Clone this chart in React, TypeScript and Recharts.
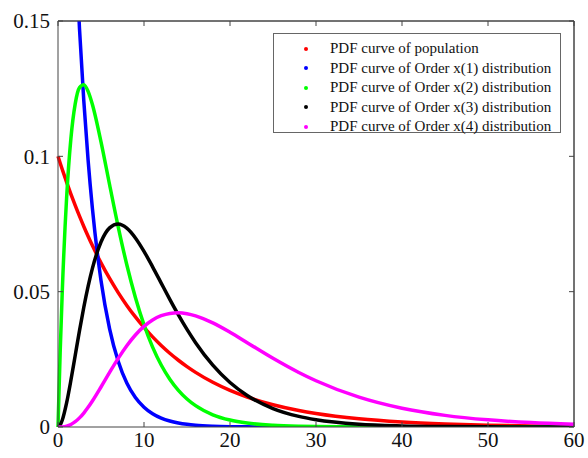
import { Line, LineChart, ReferenceLine, XAxis, YAxis } from 'recharts';

const xValues = [
  0, 0.25, 0.5, 1, 1.5, 2, 2.5, 3, 3.5, 4, 5, 6, 7, 8, 9, 10, 11, 12, 13, 14, 15, 16, 18, 20, 22, 25,
  28, 30, 35, 40, 45, 50, 55, 60,
];

const population = [
  0.1, 0.09753, 0.09512, 0.09048, 0.08607, 0.08187, 0.07788, 0.07408, 0.07047, 0.06703, 0.06065,
  0.05488, 0.04966, 0.04493, 0.04066, 0.03679, 0.03329, 0.03012, 0.02725, 0.02466, 0.02231, 0.02019,
  0.01653, 0.01353, 0.01108, 0.00821, 0.00608, 0.00498, 0.00302, 0.00183, 0.00111, 0.00067, 0.00041,
  0.00025,
];

const order1 = [
  0.4, 0.36193, 0.32749, 0.26813, 0.21952, 0.17973, 0.14715, 0.12048, 0.09864, 0.08076, 0.05413,
  0.03629, 0.02432, 0.0163, 0.01093, 0.00733, 0.00491, 0.00329, 0.00221, 0.00148, 0.00099, 0.00066,
  0.0003, 0.00013, 0.00006, 0.00002, 0.00001, 0, 0, 0, 0, 0, 0, 0,
];

const order2 = [
  0, 0.02749, 0.05037, 0.0846, 0.10658, 0.11938, 0.12538, 0.12645, 0.12401, 0.11916, 0.10535, 0.0895,
  0.07398, 0.05995, 0.04786, 0.03777, 0.02953, 0.02291, 0.01767, 0.01356, 0.01036, 0.00788, 0.00452,
  0.00257, 0.00145, 0.00061, 0.00025, 0.00014, 0.00003, 0.00001, 0, 0, 0, 0,
];

const order3 = [
  0, 0.0007, 0.00258, 0.0089, 0.01725, 0.02643, 0.03561, 0.04424, 0.05197, 0.0586, 0.06835, 0.07358,
  0.07499, 0.07347, 0.06985, 0.06489, 0.05918, 0.05316, 0.04717, 0.04142, 0.03606, 0.03116, 0.02284,
  0.01643, 0.01165, 0.00681, 0.00391, 0.00269, 0.00103, 0.00039, 0.00014, 0.00005, 0.00002, 0.00001,
];

const order4 = [
  0, 0.00001, 0.00004, 0.00031, 0.00093, 0.00195, 0.00337, 0.00516, 0.00726, 0.00961, 0.01478,
  0.02016, 0.02534, 0.03001, 0.03399, 0.03717, 0.03953, 0.04111, 0.04197, 0.04218, 0.04185, 0.04106,
  0.03845, 0.035, 0.03116, 0.02539, 0.02015, 0.01709, 0.01102, 0.00693, 0.0043, 0.00264, 0.00162,
  0.00098,
];

const xTicks = [0, 10, 20, 30, 40, 50, 60];
const yTicks = [0, 0.05, 0.1, 0.15];

const seriesKeys = ['population', 'order1', 'order2', 'order3', 'order4'];
const seriesNames = [
  'PDF curve of population',
  'PDF curve of Order x(1) distribution',
  'PDF curve of Order x(2) distribution',
  'PDF curve of Order x(3) distribution',
  'PDF curve of Order x(4) distribution',
];
const seriesColors = ['#ff0000', '#0000ff', '#00ff00', '#000000', '#ff00ff'];

const data = xValues.map((x, i) => ({
  x,
  population: population[i],
  order1: order1[i],
  order2: order2[i],
  order3: order3[i],
  order4: order4[i],
}));

const font = '"Liberation Serif", "Times New Roman", serif';
const boxColor = '#444';
const noLabel = () => <g />;

function LegendBox() {
  return (
    <div
      style={{
        position: 'absolute',
        left: 273,
        top: 33,
        width: 288,
        height: 100,
        border: '1px solid #666',
        background: '#fff',
        fontFamily: font,
        fontSize: 15,
        color: '#111',
        boxSizing: 'border-box',
        paddingTop: 5,
      }}
    >
      {seriesNames.map((name, i) => (
        <div key={name} style={{ display: 'flex', alignItems: 'center', height: 19.5 }}>
          <span
            style={{
              width: 4,
              height: 4,
              borderRadius: 2,
              background: seriesColors[i],
              marginLeft: 30,
              marginRight: 22,
            }}
          />
          <span>{name}</span>
        </div>
      ))}
    </div>
  );
}

export default function App() {
  return (
    <div style={{ position: 'absolute', left: 0, top: 0, width: 588, height: 458, background: '#fff' }}>
      <LineChart width={588} height={458} data={data} margin={{ top: 20, right: 13, bottom: 0, left: 0 }}>
        <XAxis
          dataKey="x"
          type="number"
          domain={[0, 60]}
          ticks={xTicks}
          height={31}
          tickSize={-5}
          tickMargin={10}
          stroke={boxColor}
          tick={{ fill: '#111', fontSize: 21, fontFamily: font }}
        />
        <XAxis
          xAxisId="top"
          orientation="top"
          dataKey="x"
          type="number"
          domain={[0, 60]}
          ticks={xTicks}
          height={1}
          tickSize={-5}
          tick={noLabel}
          stroke={boxColor}
        />
        <YAxis
          type="number"
          domain={[0, 0.15]}
          ticks={yTicks}
          allowDataOverflow
          width={58}
          tickSize={-5}
          tickMargin={13}
          stroke={boxColor}
          tick={{ fill: '#111', fontSize: 21, fontFamily: font }}
        />
        <YAxis
          yAxisId="right"
          orientation="right"
          type="number"
          domain={[0, 0.15]}
          ticks={yTicks}
          allowDataOverflow
          width={1}
          tickSize={-5}
          tick={noLabel}
          stroke={boxColor}
        />
        <ReferenceLine y={0.15} stroke={boxColor} />
        <ReferenceLine x={60} stroke={boxColor} />
        {seriesKeys.map((key, i) => (
          <Line
            key={key}
            xAxisId={i === 0 ? 'top' : 0}
            yAxisId={i === 0 ? 'right' : 0}
            type="monotone"
            dataKey={key}
            name={seriesNames[i]}
            stroke={seriesColors[i]}
            strokeWidth={3.5}
            dot={false}
            isAnimationActive={false}
          />
        ))}
      </LineChart>
      <LegendBox />
    </div>
  );
}
